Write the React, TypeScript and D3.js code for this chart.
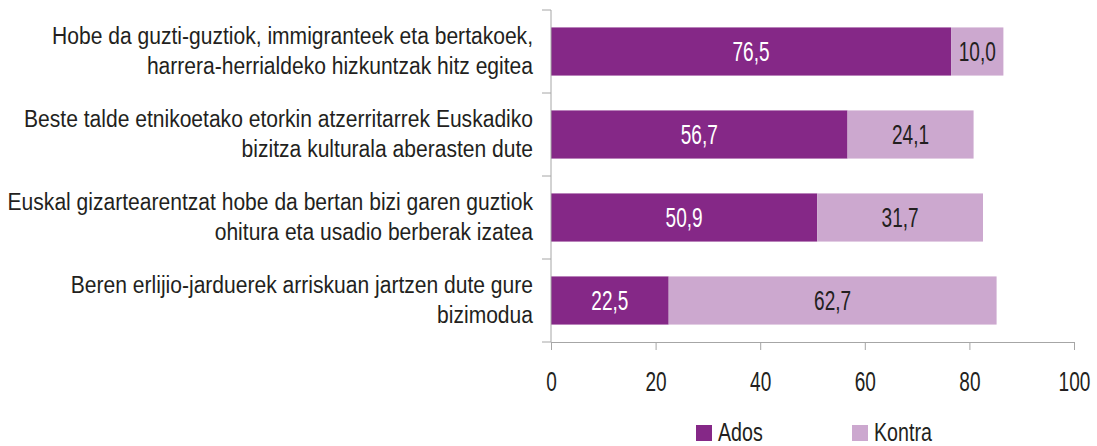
import { useRef, useEffect } from 'react'
import * as d3 from 'd3'

const categories = [
  ['Hobe da guzti-guztiok, immigranteek eta bertakoek,', 'harrera-herrialdeko hizkuntzak hitz egitea'],
  ['Beste talde etnikoetako etorkin atzerritarrek Euskadiko', 'bizitza kulturala aberasten dute'],
  ['Euskal gizartearentzat hobe da bertan bizi garen guztiok', 'ohitura eta usadio berberak izatea'],
  ['Beren erlijio-jarduerek arriskuan jartzen dute gure', 'bizimodua'],
]
const ados = [76.5, 56.7, 50.9, 22.5]
const kontra = [10.0, 24.1, 31.7, 62.7]
const xTicks = [0, 20, 40, 60, 80, 100]
const seriesNames = ['Ados', 'Kontra']
const colors = ['#852887', '#cca8cf']

// no condensed font installed, so squeeze Liberation Sans horizontally
const FONT = '"Liberation Sans", Arial, sans-serif'
const NUM_SIZE = 28, NUM_SCALE = 0.68
const CAT_SIZE = 24.5, CAT_SCALE = 0.86
const LEG_SIZE = 25.5, LEG_SCALE = 0.77
const TEXT_COLOR = '#231f20'

const fmt = (v: number) => v.toFixed(1).replace('.', ',')

const App = () => {
  const ref = useRef<SVGSVGElement>(null)

  useEffect(() => {
    const totalWidth = 1097,
      totalHeight = 446

    const svg = d3.select(ref.current)
    svg.attr('width', totalWidth).attr('height', totalHeight)
    svg.selectAll('*').remove()

    const x = d3.scaleLinear().domain([0, 100]).range([551, 1074])
    const y = d3.scaleBand<number>()
      .domain(d3.range(categories.length))
      .range([10, 342])
      .paddingInner(0.42)
      .paddingOuter(0.21)

    const axisColor = '#a6a6a6'
    const mid = (i: number) => y(i)! + y.bandwidth() / 2

    // BARS
    const rows = svg.append('g')
      .selectAll('g')
      .data(d3.range(categories.length))
      .enter()
      .append('g')

    rows.append('rect')
      .attr('x', x(0))
      .attr('y', i => y(i)!)
      .attr('width', i => x(ados[i]) - x(0))
      .attr('height', y.bandwidth())
      .attr('fill', colors[0])

    rows.append('rect')
      .attr('x', i => x(ados[i]))
      .attr('y', i => y(i)!)
      .attr('width', i => x(ados[i] + kontra[i]) - x(ados[i]))
      .attr('height', y.bandwidth())
      .attr('fill', colors[1])

    rows.append('text')
      .attr('transform', i => `translate(${(x(0) + x(ados[i])) / 2}, ${mid(i) + 9}) scale(${NUM_SCALE}, 1)`)
      .attr('text-anchor', 'middle')
      .attr('fill', '#ffffff')
      .attr('font-size', NUM_SIZE)
      .attr('font-family', FONT)
      .text(i => fmt(ados[i]))

    rows.append('text')
      .attr('transform', i => `translate(${(x(ados[i]) + x(ados[i] + kontra[i])) / 2}, ${mid(i) + 9}) scale(${NUM_SCALE}, 1)`)
      .attr('text-anchor', 'middle')
      .attr('fill', TEXT_COLOR)
      .attr('font-size', NUM_SIZE)
      .attr('font-family', FONT)
      .text(i => fmt(kontra[i]))

    // CATEGORY LABELS
    rows.append('text')
      .attr('transform', i => `translate(533, ${mid(i)}) scale(${CAT_SCALE}, 1)`)
      .attr('text-anchor', 'end')
      .attr('fill', TEXT_COLOR)
      .attr('font-size', CAT_SIZE)
      .attr('font-family', FONT)
      .each(function (i) {
        const t = d3.select(this)
        categories[i].forEach((line, k) => {
          t.append('tspan')
            .attr('x', 0)
            .attr('y', k === 0 ? -8 : 23)
            .text(line)
        })
      })

    // Y AXIS
    const yAxis = svg.append('g')
    yAxis.append('line')
      .attr('x1', x(0)).attr('x2', x(0))
      .attr('y1', y.range()[0]).attr('y2', y.range()[1])
      .attr('stroke', axisColor)
    const bounds = d3.range(categories.length + 1).map(i => y.range()[0] + i * y.step())
    yAxis.selectAll('.yt')
      .data(bounds)
      .enter()
      .append('line')
      .attr('x1', x(0) - 9).attr('x2', x(0))
      .attr('y1', d => d).attr('y2', d => d)
      .attr('stroke', axisColor)

    // X AXIS
    const xAxis = d3.axisBottom(x)
      .tickValues(xTicks)
      .tickSize(8)
      .tickSizeOuter(0)
      .tickPadding(21)
      .tickFormat(d => String(d))
    const gx = svg.append('g')
      .attr('transform', `translate(0, ${y.range()[1]})`)
      .call(xAxis)
    gx.select('.domain').attr('stroke', axisColor)
    gx.selectAll('.tick line').attr('stroke', axisColor)
    gx.selectAll('.tick text')
      .attr('fill', TEXT_COLOR)
      .attr('font-size', NUM_SIZE)
      .attr('font-family', FONT)
      .attr('transform', `scale(${NUM_SCALE}, 1)`)

    // LEGEND
    const legendX = [696, 852]
    const legend = svg.append('g')
      .selectAll('g')
      .data(seriesNames)
      .enter()
      .append('g')
      .attr('transform', (d, i) => `translate(${legendX[i]}, 425)`)
    legend.append('rect')
      .attr('width', 16)
      .attr('height', 16)
      .attr('fill', (d, i) => colors[i])
    legend.append('text')
      .attr('transform', `translate(22, 16) scale(${LEG_SCALE}, 1)`)
      .attr('fill', TEXT_COLOR)
      .attr('font-size', LEG_SIZE)
      .attr('font-family', FONT)
      .text(d => d)
  }, [])

  return (
    <svg ref={ ref } style={ { position: 'absolute', left: 0, top: 0 } }></svg>
  )
}

export default App
